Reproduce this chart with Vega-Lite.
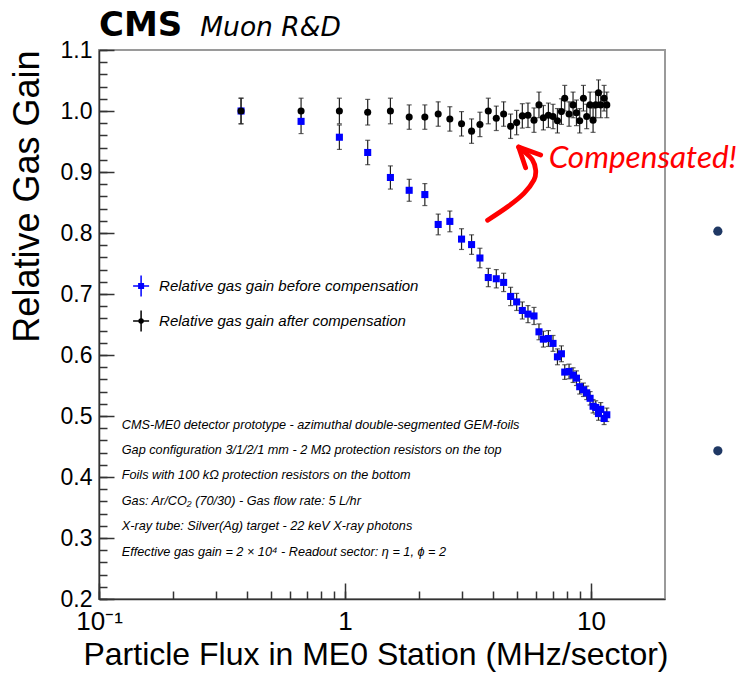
{
  "$schema": "https://vega.github.io/schema/vega-lite/v6.json",
  "width": 566,
  "height": 549,
  "autosize": {"type": "none"},
  "padding": {"left": 99, "top": 50, "right": 78, "bottom": 78},
  "background": "white",
  "config": {
    "font": "Liberation Sans",
    "view": {"stroke": "#9a9a9a", "strokeWidth": 2},
    "axis": {
      "grid": false,
      "domainColor": "#333333",
      "domainWidth": 1.5,
      "tickColor": "#333333",
      "tickWidth": 1.5,
      "tickCount": 200,
      "tickSize": -8,
      "labelColor": "#000000",
      "labelFont": "Liberation Sans",
      "labelFontSize": 23,
      "titleFont": "Liberation Sans",
      "titleFontWeight": "normal",
      "titleColor": "#000000",
      "labelOverlap": false,
      "labelFlush": false
    }
  },
  "datasets": {
    "gain": [
      {"series": "before", "flux": 0.378, "gain": 1.0, "err": 0.021},
      {"series": "before", "flux": 0.663, "gain": 0.983, "err": 0.020},
      {"series": "before", "flux": 0.949, "gain": 0.957, "err": 0.020},
      {"series": "before", "flux": 1.237, "gain": 0.932, "err": 0.020},
      {"series": "before", "flux": 1.53, "gain": 0.891, "err": 0.019},
      {"series": "before", "flux": 1.824, "gain": 0.870, "err": 0.018},
      {"series": "before", "flux": 2.112, "gain": 0.863, "err": 0.018},
      {"series": "before", "flux": 2.393, "gain": 0.814, "err": 0.017},
      {"series": "before", "flux": 2.669, "gain": 0.819, "err": 0.017},
      {"series": "before", "flux": 2.978, "gain": 0.790, "err": 0.017},
      {"series": "before", "flux": 3.271, "gain": 0.781, "err": 0.016},
      {"series": "before", "flux": 3.537, "gain": 0.759, "err": 0.016},
      {"series": "before", "flux": 3.825, "gain": 0.727, "err": 0.015},
      {"series": "before", "flux": 4.122, "gain": 0.725, "err": 0.015},
      {"series": "before", "flux": 4.416, "gain": 0.719, "err": 0.015},
      {"series": "before", "flux": 4.715, "gain": 0.696, "err": 0.015},
      {"series": "before", "flux": 4.988, "gain": 0.687, "err": 0.014},
      {"series": "before", "flux": 5.26, "gain": 0.673, "err": 0.014},
      {"series": "before", "flux": 5.546, "gain": 0.667, "err": 0.014},
      {"series": "before", "flux": 5.868, "gain": 0.664, "err": 0.014},
      {"series": "before", "flux": 6.147, "gain": 0.638, "err": 0.013},
      {"series": "before", "flux": 6.405, "gain": 0.626, "err": 0.013},
      {"series": "before", "flux": 6.714, "gain": 0.627, "err": 0.013},
      {"series": "before", "flux": 7.011, "gain": 0.619, "err": 0.013},
      {"series": "before", "flux": 7.307, "gain": 0.597, "err": 0.013},
      {"series": "before", "flux": 7.585, "gain": 0.602, "err": 0.013},
      {"series": "before", "flux": 7.824, "gain": 0.572, "err": 0.012},
      {"series": "before", "flux": 8.147, "gain": 0.573, "err": 0.012},
      {"series": "before", "flux": 8.456, "gain": 0.567, "err": 0.012},
      {"series": "before", "flux": 8.73, "gain": 0.562, "err": 0.012},
      {"series": "before", "flux": 9.0, "gain": 0.548, "err": 0.012},
      {"series": "before", "flux": 9.32, "gain": 0.543, "err": 0.011},
      {"series": "before", "flux": 9.61, "gain": 0.538, "err": 0.011},
      {"series": "before", "flux": 9.92, "gain": 0.529, "err": 0.011},
      {"series": "before", "flux": 10.2, "gain": 0.516, "err": 0.011},
      {"series": "before", "flux": 10.46, "gain": 0.514, "err": 0.011},
      {"series": "before", "flux": 10.73, "gain": 0.504, "err": 0.011},
      {"series": "before", "flux": 10.96, "gain": 0.511, "err": 0.011},
      {"series": "before", "flux": 11.31, "gain": 0.496, "err": 0.010},
      {"series": "before", "flux": 11.6, "gain": 0.502, "err": 0.011},
      {"series": "after", "flux": 0.378, "gain": 1.0, "err": 0.021},
      {"series": "after", "flux": 0.663, "gain": 1.0, "err": 0.021},
      {"series": "after", "flux": 0.949, "gain": 1.0, "err": 0.021},
      {"series": "after", "flux": 1.237, "gain": 0.998, "err": 0.021},
      {"series": "after", "flux": 1.53, "gain": 1.0, "err": 0.021},
      {"series": "after", "flux": 1.824, "gain": 0.990, "err": 0.020},
      {"series": "after", "flux": 2.112, "gain": 0.990, "err": 0.020},
      {"series": "after", "flux": 2.393, "gain": 0.995, "err": 0.020},
      {"series": "after", "flux": 2.669, "gain": 0.987, "err": 0.020},
      {"series": "after", "flux": 2.978, "gain": 0.979, "err": 0.020},
      {"series": "after", "flux": 3.271, "gain": 0.967, "err": 0.020},
      {"series": "after", "flux": 3.537, "gain": 0.978, "err": 0.020},
      {"series": "after", "flux": 3.825, "gain": 1.0, "err": 0.021},
      {"series": "after", "flux": 4.122, "gain": 0.988, "err": 0.020},
      {"series": "after", "flux": 4.416, "gain": 0.995, "err": 0.020},
      {"series": "after", "flux": 4.715, "gain": 0.975, "err": 0.020},
      {"series": "after", "flux": 4.988, "gain": 0.981, "err": 0.020},
      {"series": "after", "flux": 5.26, "gain": 0.992, "err": 0.020},
      {"series": "after", "flux": 5.546, "gain": 0.993, "err": 0.020},
      {"series": "after", "flux": 5.868, "gain": 0.985, "err": 0.020},
      {"series": "after", "flux": 6.147, "gain": 1.010, "err": 0.021},
      {"series": "after", "flux": 6.405, "gain": 0.989, "err": 0.020},
      {"series": "after", "flux": 6.714, "gain": 0.993, "err": 0.020},
      {"series": "after", "flux": 7.011, "gain": 0.991, "err": 0.020},
      {"series": "after", "flux": 7.307, "gain": 0.984, "err": 0.020},
      {"series": "after", "flux": 7.585, "gain": 0.999, "err": 0.021},
      {"series": "after", "flux": 7.824, "gain": 1.021, "err": 0.021},
      {"series": "after", "flux": 8.147, "gain": 0.995, "err": 0.020},
      {"series": "after", "flux": 8.456, "gain": 1.010, "err": 0.021},
      {"series": "after", "flux": 8.73, "gain": 0.997, "err": 0.021},
      {"series": "after", "flux": 9.0, "gain": 0.984, "err": 0.020},
      {"series": "after", "flux": 9.32, "gain": 1.021, "err": 0.021},
      {"series": "after", "flux": 9.61, "gain": 0.991, "err": 0.020},
      {"series": "after", "flux": 9.92, "gain": 1.010, "err": 0.021},
      {"series": "after", "flux": 10.2, "gain": 0.985, "err": 0.020},
      {"series": "after", "flux": 10.46, "gain": 1.010, "err": 0.021},
      {"series": "after", "flux": 10.73, "gain": 1.030, "err": 0.021},
      {"series": "after", "flux": 10.96, "gain": 1.010, "err": 0.021},
      {"series": "after", "flux": 11.31, "gain": 1.021, "err": 0.021},
      {"series": "after", "flux": 11.6, "gain": 1.010, "err": 0.021}
    ],
    "arrowShaft": [
      {"step": 1, "flux": 3.80, "gain": 0.821},
      {"step": 2, "flux": 4.583, "gain": 0.843},
      {"step": 3, "flux": 5.34, "gain": 0.865},
      {"step": 4, "flux": 5.868, "gain": 0.887},
      {"step": 5, "flux": 5.96, "gain": 0.903},
      {"step": 6, "flux": 5.779, "gain": 0.920},
      {"step": 7, "flux": 5.26, "gain": 0.936},
      {"step": 8, "flux": 5.082, "gain": 0.941}
    ],
    "arrowHead": [
      {"step": 1, "flux": 5.425, "gain": 0.907},
      {"step": 2, "flux": 5.082, "gain": 0.941},
      {"step": 3, "flux": 6.246, "gain": 0.928}
    ],
    "bullets": [
      {"flux": 32.8, "gain": 0.803},
      {"flux": 32.8, "gain": 0.443}
    ]
  },
  "resolve": {"axis": {"x": "independent", "y": "independent"}},
  "layer": [
    {
      "layer": [
        {
          "data": {"name": "gain"},
          "mark": {
            "type": "errorbar",
            "color": "#222222",
            "rule": {"strokeWidth": 1.2},
            "ticks": {"size": 5, "thickness": 1.2, "color": "#222222"}
          },
          "encoding": {
            "x": {
              "field": "flux",
              "type": "quantitative",
              "scale": {"type": "log", "domain": [0.1, 20], "nice": false},
              "axis": {
                "orient": "bottom",
                "title": "Particle Flux in ME0 Station (MHz/sector)",
                "titleFontSize": 32,
                "titleAnchor": "end",
                "titleAlign": "right",
                "titleBaseline": "alphabetic",
                "titleX": 569,
                "titleY": 65,
                "values": [0.1, 0.2, 0.3, 0.4, 0.5, 0.6, 0.7, 0.8, 0.9, 1, 2, 3, 4, 5, 6, 7, 8, 9, 10],
                "labelExpr": "datum.value == 0.1 ? '10⁻¹' : datum.value == 1 ? '1' : datum.value == 10 ? '10' : ''",
                "labelFontSize": 26,
                "labelPadding": 17
              }
            },
            "y": {
              "field": "gain",
              "type": "quantitative",
              "scale": {"domain": [0.2, 1.1], "zero": false, "nice": false},
              "axis": {
                "orient": "left",
                "title": "Relative Gas Gain",
                "titleFontSize": 36,
                "titleAnchor": "end",
                "titleBaseline": "alphabetic",
                "titleX": -61,
                "values": [0.2, 0.22, 0.24, 0.26, 0.28, 0.3, 0.32, 0.34, 0.36, 0.38, 0.4, 0.42, 0.44, 0.46, 0.48, 0.5, 0.52, 0.54, 0.56, 0.58, 0.6, 0.62, 0.64, 0.66, 0.68, 0.7, 0.72, 0.74, 0.76, 0.78, 0.8, 0.82, 0.84, 0.86, 0.88, 0.9, 0.92, 0.94, 0.96, 0.98, 1.0, 1.02, 1.04, 1.06, 1.08, 1.1],
                "labelExpr": "abs(datum.value * 10 - round(datum.value * 10)) < 0.001 ? format(datum.value, '.1f') : ''",
                "labelPadding": 15
              }
            },
            "yError": {"field": "err"}
          }
        },
        {
          "data": {"name": "gain"},
          "mark": {"type": "point", "filled": true, "opacity": 1, "size": 50},
          "encoding": {
            "x": {"field": "flux", "type": "quantitative", "scale": {"type": "log", "domain": [0.1, 20], "nice": false}},
            "y": {"field": "gain", "type": "quantitative", "scale": {"domain": [0.2, 1.1], "zero": false, "nice": false}},
            "color": {
              "field": "series",
              "type": "nominal",
              "scale": {"domain": ["before", "after"], "range": ["#0000ff", "#000000"]},
              "legend": null
            },
            "shape": {
              "field": "series",
              "type": "nominal",
              "scale": {"domain": ["before", "after"], "range": ["square", "circle"]},
              "legend": null
            }
          }
        },
        {
          "mark": {"type": "rule", "color": "#ff0000", "strokeDash": [2, 2], "strokeWidth": 1.6},
          "encoding": {"y": {"datum": 1.0}}
        },
        {
          "data": {"values": [{"label": "Relative gas gain before compensation"}]},
          "encoding": {"x": {"datum": 0.1483}, "y": {"datum": 0.7131}},
          "layer": [
            {"mark": {"type": "point", "shape": "M-1,0H1M0,-1.3V1.3", "size": 256, "filled": false, "stroke": "#0000ff", "strokeWidth": 1.5, "opacity": 1}},
            {"mark": {"type": "point", "shape": "square", "size": 36, "filled": true, "color": "#0000ff", "opacity": 1}},
            {
              "mark": {"type": "text", "align": "left", "baseline": "middle", "dx": 18, "font": "Liberation Sans", "fontStyle": "italic", "fontSize": 15, "color": "#000000"},
              "encoding": {"text": {"field": "label"}}
            }
          ]
        },
        {
          "data": {"values": [{"label": "Relative gas gain after compensation"}]},
          "encoding": {"x": {"datum": 0.1483}, "y": {"datum": 0.6557}},
          "layer": [
            {"mark": {"type": "point", "shape": "M-1,0H1M0,-1.3V1.3", "size": 256, "filled": false, "stroke": "#000000", "strokeWidth": 1.5, "opacity": 1}},
            {"mark": {"type": "point", "shape": "circle", "size": 30, "filled": true, "color": "#000000", "opacity": 1}},
            {
              "mark": {"type": "text", "align": "left", "baseline": "middle", "dx": 18, "font": "Liberation Sans", "fontStyle": "italic", "fontSize": 15, "color": "#000000"},
              "encoding": {"text": {"field": "label"}}
            }
          ]
        },
        {
          "data": {"values": [{"note": [
            "CMS-ME0 detector prototype - azimuthal double-segmented GEM-foils",
            "Gap configuration 3/1/2/1 mm - 2 MΩ protection resistors on the top",
            "Foils with 100 kΩ protection resistors on the bottom",
            "Gas: Ar/CO₂ (70/30) - Gas flow rate: 5 L/hr",
            "X-ray tube: Silver(Ag) target - 22 keV X-ray photons",
            "Effective gas gain = 2 × 10⁴ - Readout sector: η = 1, ϕ = 2"
          ]}]},
          "mark": {
            "type": "text",
            "align": "left",
            "baseline": "alphabetic",
            "font": "Liberation Sans",
            "fontStyle": "italic",
            "fontSize": 12.7,
            "lineHeight": 25.4,
            "color": "#000000"
          },
          "encoding": {
            "x": {"datum": 0.1237},
            "y": {"datum": 0.4795},
            "text": {"field": "note"}
          }
        },
        {
          "data": {"values": [{"label": "CMS"}]},
          "mark": {"type": "text", "align": "left", "baseline": "alphabetic", "font": "DejaVu Sans", "fontWeight": "bold", "fontSize": 34, "color": "#000000"},
          "encoding": {"x": {"datum": 0.1}, "y": {"datum": 1.123}, "text": {"field": "label"}}
        },
        {
          "data": {"values": [{"label": "Muon R&D"}]},
          "mark": {"type": "text", "align": "left", "baseline": "alphabetic", "font": "DejaVu Sans", "fontStyle": "italic", "fontSize": 26.5, "color": "#000000"},
          "encoding": {"x": {"datum": 0.258}, "y": {"datum": 1.123}, "text": {"field": "label"}}
        },
        {
          "data": {"values": [{"label": "Compensated!"}]},
          "mark": {"type": "text", "align": "left", "baseline": "alphabetic", "font": "Lato", "fontStyle": "italic", "fontSize": 31.5, "color": "#ff0000"},
          "encoding": {"x": {"datum": 6.73}, "y": {"datum": 0.9066}, "text": {"field": "label"}}
        },
        {
          "data": {"name": "arrowShaft"},
          "mark": {"type": "line", "color": "#ff0000", "strokeWidth": 4.8, "strokeCap": "round", "strokeJoin": "round", "interpolate": "cardinal"},
          "encoding": {
            "x": {"field": "flux", "type": "quantitative"},
            "y": {"field": "gain", "type": "quantitative"},
            "order": {"field": "step"}
          }
        },
        {
          "data": {"name": "arrowHead"},
          "mark": {"type": "line", "color": "#ff0000", "strokeWidth": 4.8, "strokeCap": "round", "strokeJoin": "round"},
          "encoding": {
            "x": {"field": "flux", "type": "quantitative"},
            "y": {"field": "gain", "type": "quantitative"},
            "order": {"field": "step"}
          }
        },
        {
          "data": {"name": "bullets"},
          "mark": {"type": "circle", "color": "#1f3864", "opacity": 1, "size": 85},
          "encoding": {
            "x": {"field": "flux", "type": "quantitative"},
            "y": {"field": "gain", "type": "quantitative"}
          }
        }
      ]
    },
    {
      "data": {"name": "gain"},
      "mark": {"type": "point", "opacity": 0},
      "encoding": {
        "x": {
          "field": "flux",
          "type": "quantitative",
          "axis": {
            "orient": "bottom",
            "values": [0.1, 1, 10],
            "tickSize": -16,
            "labels": false,
            "domain": false,
            "title": null
          }
        },
        "y": {
          "field": "gain",
          "type": "quantitative",
          "axis": {
            "orient": "left",
            "values": [0.2, 0.3, 0.4, 0.5, 0.6, 0.7, 0.8, 0.9, 1.0, 1.1],
            "tickSize": -15,
            "labels": false,
            "domain": false,
            "title": null
          }
        }
      }
    }
  ]
}
